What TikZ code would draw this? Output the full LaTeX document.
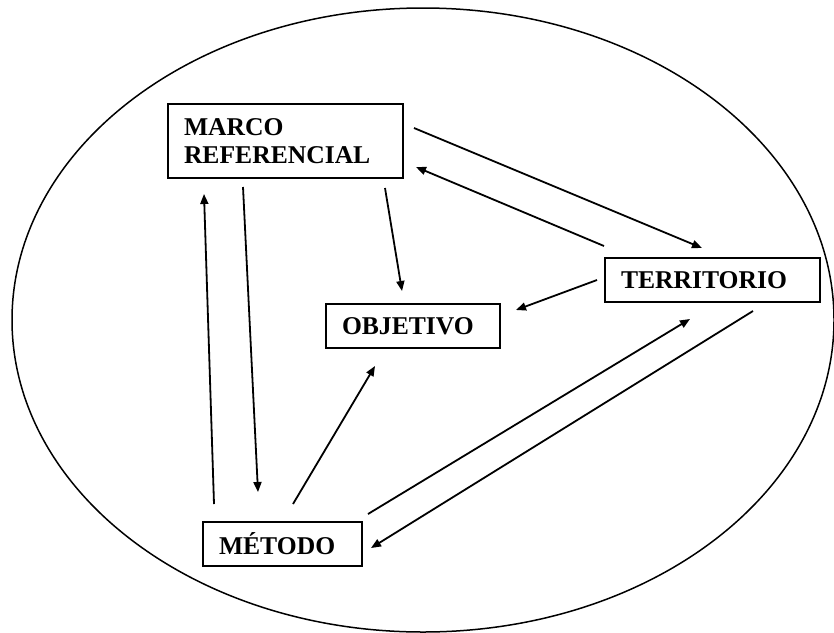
\documentclass[tikz,border=0pt]{standalone}
\usepackage{fontspec}
\setmainfont{Liberation Serif}
\usetikzlibrary{arrows.meta}
\begin{document}
\begin{tikzpicture}[x=0.5pt,y=-0.5pt,
  conceptbox/.style={draw, line width=1pt, inner xsep=8pt, inner ysep=0pt,
    align=left, font=\fontsize{12.8}{14}\selectfont\bfseries},
  link/.style={line width=0.9pt, -{Triangle[length=5pt,width=4pt]}}]
  \useasboundingbox (0,0) rectangle (834,632);
  % enclosing ellipse
  \draw[line width=0.75pt] (423,320) ellipse [x radius=411, y radius=312];
  % concept boxes
  \node[conceptbox, text width=101.5pt, minimum height=37pt] (marco) at (285.5,141) {MARCO\\REFERENCIAL};
  \node[conceptbox, text width=91.5pt, minimum height=22pt] (terr) at (712.5,280) {TERRITORIO};
  \node[conceptbox, text width=71pt, minimum height=22pt] (obj) at (413,326) {OBJETIVO};
  \node[conceptbox, text width=63.5pt, minimum height=22pt] (met) at (282.5,544) {MÉTODO};
  % connectors
  \draw[link] ([shift={(10,-13)}]marco.east) -- ([shift={(-10.5,-9)}]terr.north);
  \draw[link] ([shift={(-108.5,-11)}]terr.north) -- ([shift={(12,26)}]marco.east);
  \draw[link] ([shift={(99.5,9)}]marco.south) -- ([shift={(-11,-12)}]obj.north);
  \draw[link] ([shift={(-7,0)}]terr.west) -- ([shift={(15,-16)}]obj.east);
  \draw[link] ([shift={(-42.5,8)}]marco.south) -- ([shift={(-24.5,-29)}]met.north);
  \draw[link] ([shift={(-68.5,-17)}]met.north) -- ([shift={(-81.5,15)}]marco.south);
  \draw[link] ([shift={(10.5,-17)}]met.north) -- ([shift={(-38,17)}]obj.south);
  \draw[link] ([shift={(85.5,-7)}]met.north) -- ([shift={(-22.5,16)}]terr.south);
  \draw[link] ([shift={(40.5,8)}]terr.south) -- ([shift={(8,4)}]met.east);
\end{tikzpicture}
\end{document}
